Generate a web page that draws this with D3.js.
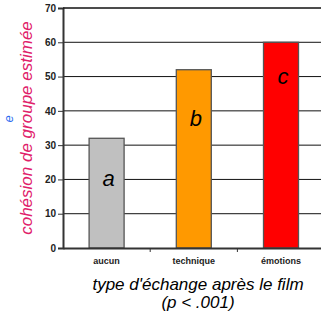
<!DOCTYPE html>
<html lang="fr">
<head>
<meta charset="UTF-8">
<title>D3</title>
<style>
  body { margin: 0; background: #fff; }
  svg { display: block; font-family: Arial, "Liberation Sans", sans-serif; }
</style>
</head>
<body>
<svg id="chart" width="321" height="317"></svg>
<script src="https://cdnjs.cloudflare.com/ajax/libs/d3/7.8.5/d3.min.js"></script>
<script>
// data
const categories = ["aucun", "technique", "émotions"];
const values = [32, 52, 60];
const letters = ["a", "b", "c"];
const barColors = ["#c0c0c0", "#ff9900", "#ff0000"];
const yTicks = [0, 10, 20, 30, 40, 50, 60, 70];

// where the letters sit inside the bars (in value units)
const letterY = [18, 35.6, 47.7];

const svg = d3.select("#chart");

const plotLeft = 63, plotTop = 8, plotBottom = 248, plotRight = 324.6;

const x = d3.scaleBand().domain(categories).range([plotLeft, plotRight]);
const y = d3.scaleLinear().domain([0, 70]).range([plotBottom, plotTop]);

// gridlines
svg.append("g")
  .selectAll("line")
  .data(yTicks.filter(d => d > 0))
  .join("line")
  .attr("x1", plotLeft).attr("x2", plotRight)
  .attr("y1", d => y(d)).attr("y2", d => y(d))
  .attr("stroke", "#111")
  .attr("stroke-width", 1);

// bars
const barW = 35;
svg.append("g")
  .selectAll("rect")
  .data(categories)
  .join("rect")
  .attr("x", d => x(d) + x.bandwidth() / 2 - barW / 2)
  .attr("y", (d, i) => y(values[i]))
  .attr("width", barW)
  .attr("height", (d, i) => y(0) - y(values[i]))
  .attr("fill", (d, i) => barColors[i])
  .attr("stroke", "#555")
  .attr("stroke-width", 1.3);

// letters in bars
svg.append("g")
  .selectAll("text")
  .data(categories)
  .join("text")
  .attr("x", d => x(d) + x.bandwidth() / 2 + 2)
  .attr("y", (d, i) => y(letterY[i]))
  .attr("text-anchor", "middle")
  .attr("font-size", 22)
  .attr("font-style", "italic")
  .attr("fill", "#000")
  .text((d, i) => letters[i]);

// y axis
const yAxis = svg.append("g")
  .attr("transform", `translate(${plotLeft},0)`)
  .call(d3.axisLeft(y).tickValues(yTicks).tickSize(5).tickPadding(2));
yAxis.select(".domain").attr("stroke", "#333").attr("stroke-width", 2);
yAxis.selectAll(".tick line").attr("stroke", "#333");
yAxis.selectAll("text")
  .attr("font-size", 10).attr("font-weight", "bold")
  .attr("font-family", "Arial, 'Liberation Sans', sans-serif")
  .attr("fill", "#222");

// x axis
const xAxis = svg.append("g")
  .attr("transform", `translate(0,${plotBottom})`)
  .call(d3.axisBottom(x).tickSize(0).tickPadding(10));
xAxis.select(".domain").attr("stroke", "#333").attr("stroke-width", 2);
xAxis.selectAll("text")
  .attr("font-size", 9).attr("font-weight", "bold")
  .attr("font-family", "Arial, 'Liberation Sans', sans-serif")
  .attr("fill", "#222");

// tick marks between categories
svg.append("g")
  .selectAll("line")
  .data(categories.slice(1))
  .join("line")
  .attr("x1", d => x(d)).attr("x2", d => x(d))
  .attr("y1", plotBottom).attr("y2", plotBottom + 4)
  .attr("stroke", "#333");

// top border
svg.append("line")
  .attr("x1", plotLeft).attr("x2", plotRight)
  .attr("y1", y(70)).attr("y2", y(70))
  .attr("stroke", "#111").attr("stroke-width", 1.2);

// y title
svg.append("text")
  .attr("transform", "translate(32,128) rotate(-90)")
  .attr("text-anchor", "middle")
  .attr("font-size", 17)
  .attr("font-style", "italic")
  .attr("fill", "#e0206a")
  .text("cohésion de groupe estimée");

// piece of another label at the left edge
svg.append("text")
  .attr("transform", "translate(13,119) rotate(-90)")
  .attr("text-anchor", "middle")
  .attr("font-size", 13)
  .attr("font-style", "italic")
  .attr("fill", "#2b6bf0")
  .text("e");

// x title
svg.append("text")
  .attr("x", 198).attr("y", 290)
  .attr("text-anchor", "middle")
  .attr("font-size", 17)
  .attr("font-style", "italic")
  .attr("fill", "#000")
  .text("type d'échange après le film");
svg.append("text")
  .attr("x", 198).attr("y", 308)
  .attr("text-anchor", "middle")
  .attr("font-size", 17)
  .attr("font-style", "italic")
  .attr("fill", "#000")
  .text("(p < .001)");
</script>
</body>
</html>
